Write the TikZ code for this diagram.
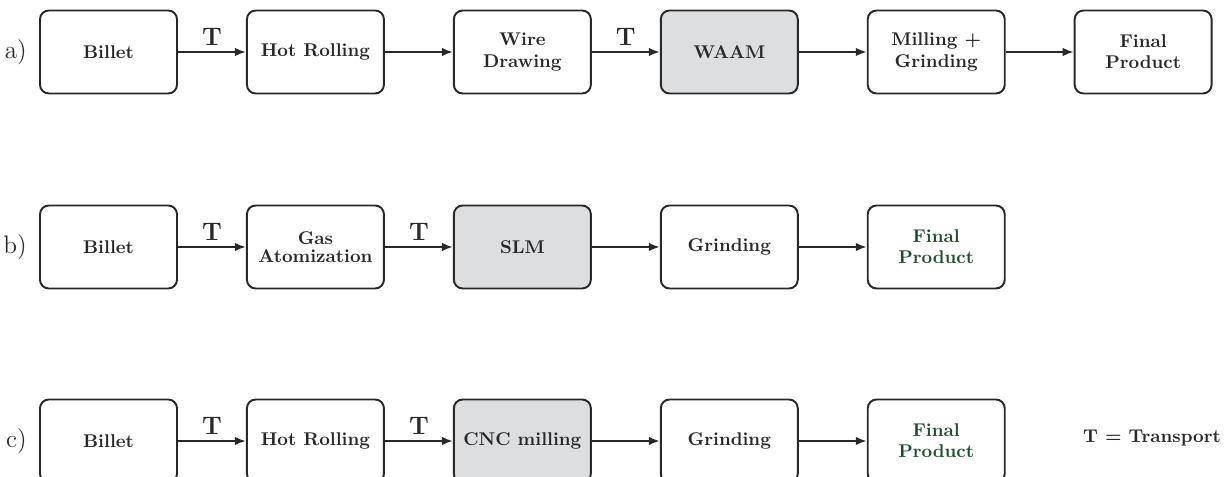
\documentclass[tikz,border=0pt]{standalone}
\usetikzlibrary{arrows.meta, positioning}
\definecolor{linegray}{RGB}{40,40,40}
\definecolor{amfill}{RGB}{221,222,224}
\definecolor{prodgreen}{RGB}{30,80,45}

\begin{document}
\begin{tikzpicture}[
      stage/.style={rectangle, rounded corners=5pt, draw=linegray, line width=1.1pt,
        minimum width=2.74cm, minimum height=1.66cm, align=center,
        text=linegray, font=\bfseries\fontsize{10.5}{12}\selectfont},
      am/.style={stage, fill=amfill},
      final/.style={stage, text=prodgreen},
      flow/.style={-{Latex[length=2.2mm,width=1.7mm]}, draw=linegray, line width=1.1pt},
      tlabel/.style={above, font=\bfseries\Large, text=linegray, inner sep=3pt},
      rowname/.style={font=\Large, text=linegray},
      node distance=1.36cm
    ]
      \useasboundingbox (0,0) rectangle (24.64,-9.54);

      % a) wire arc additive manufacturing
      \node[stage] (a1) at (2.17,-1.04) {Billet};
      \node[stage, right=of a1] (a2) {Hot Rolling};
      \node[stage, right=of a2] (a3) {Wire\\Drawing};
      \node[am, right=of a3] (a4) {WAAM};
      \node[stage, right=of a4] (a5) {Milling +\\Grinding};
      \node[stage, right=of a5] (a6) {Final\\Product};
      \node[rowname, left=0.12cm of a1] (la) {a)};

      \draw[flow] (a1) -- node[tlabel]{T} (a2);
      \draw[flow] (a2) -- (a3);
      \draw[flow] (a3) -- node[tlabel]{T} (a4);
      \draw[flow] (a4) -- (a5);
      \draw[flow] (a5) -- (a6);

      % b) selective laser melting
      \node[stage] (b1) at (2.17,-4.94) {Billet};
      \node[stage, right=of b1] (b2) {Gas\\[-1.5pt]Atomization};
      \node[am, right=of b2] (b3) {SLM};
      \node[stage, right=of b3] (b4) {Grinding};
      \node[final, right=of b4] (b5) {Final\\Product};
      \node[rowname, left=0.12cm of b1] (lb) {b)};

      \draw[flow] (b1) -- node[tlabel]{T} (b2);
      \draw[flow] (b2) -- node[tlabel]{T} (b3);
      \draw[flow] (b3) -- (b4);
      \draw[flow] (b4) -- (b5);

      % c) conventional machining
      \node[stage] (c1) at (2.17,-8.82) {Billet};
      \node[stage, right=of c1] (c2) {Hot Rolling};
      \node[am, right=of c2] (c3) {CNC milling};
      \node[stage, right=of c3] (c4) {Grinding};
      \node[final, right=of c4] (c5) {Final\\Product};
      \node[rowname, left=0.12cm of c1] (lc) {c)};

      \draw[flow] (c1) -- node[tlabel]{T} (c2);
      \draw[flow] (c2) -- node[tlabel]{T} (c3);
      \draw[flow] (c3) -- (c4);
      \draw[flow] (c4) -- (c5);

      \node[text=linegray, font=\bfseries\fontsize{10.5}{12}\selectfont, anchor=east] (key) at (24.54,-8.76) {T = Transport};
    \end{tikzpicture}
\end{document}
